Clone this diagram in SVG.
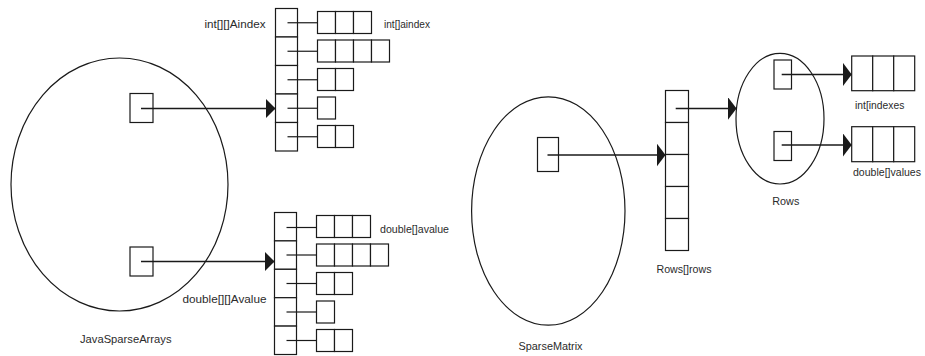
<svg xmlns="http://www.w3.org/2000/svg" width="925" height="356" viewBox="0 0 925 356">
  <style>
    .shape { fill: #ffffff; stroke: #1a1a1a; stroke-width: 1.2; }
    .cell { fill: #ffffff; stroke: #1a1a1a; stroke-width: 1.2; }
    .link { fill: none; stroke: #1a1a1a; stroke-width: 1.2; }
    .ref { fill: none; stroke: #1a1a1a; stroke-width: 1.5; }
    .lbl { font-family: "Liberation Sans", Arial, sans-serif; font-size: 11.5px; fill: #2b2b2b; }
    .lbl-edge { font-size: 11px; }
  </style>
  <defs>
    <marker id="head-s" viewBox="0 0 10 20" refX="10" refY="10" markerWidth="10" markerHeight="20" markerUnits="userSpaceOnUse" orient="auto">
      <path d="M0,0 L10,10 L0,20 z" fill="#1a1a1a"/>
    </marker>
    <marker id="head-l" viewBox="0 0 9 24" refX="9" refY="12" markerWidth="9" markerHeight="24" markerUnits="userSpaceOnUse" orient="auto">
      <path d="M0,0 L9,12 L0,24 z" fill="#1a1a1a"/>
    </marker>
  </defs>

  <!-- JavaSparseArrays object -->
  <g id="java-sparse-arrays">
    <ellipse class="shape" cx="119.5" cy="184.5" rx="108.5" ry="126.5"/>
    <rect class="shape" x="130" y="93.5" width="23" height="29"/>
    <rect class="shape" x="130" y="247" width="23" height="29"/>
    <text class="lbl" x="80" y="343" textLength="91.5" lengthAdjust="spacingAndGlyphs">JavaSparseArrays</text>
  </g>

  <!-- int[][] Aindex: column of row references -->
  <g id="aindex">
    <rect class="shape" x="275.5" y="8.5" width="22" height="28.5"/>
    <rect class="shape" x="275.5" y="37" width="22" height="28.5"/>
    <rect class="shape" x="275.5" y="65.5" width="22" height="28.5"/>
    <rect class="shape" x="275.5" y="94" width="22" height="28.5"/>
    <rect class="shape" x="275.5" y="122.5" width="22" height="28.5"/>
    <text class="lbl" x="204.5" y="28" textLength="61" lengthAdjust="spacingAndGlyphs">int[][]Aindex</text>
  </g>

  <!-- int[] aindex rows -->
  <g id="aindex-rows">
    <g transform="translate(317.5,11.5)">
      <rect class="cell" x="0" y="0" width="18" height="22"/>
      <rect class="cell" x="18" y="0" width="18" height="22"/>
      <rect class="cell" x="36" y="0" width="18" height="22"/>
    </g>
    <g transform="translate(317.5,40)">
      <rect class="cell" x="0" y="0" width="18" height="22"/>
      <rect class="cell" x="18" y="0" width="18" height="22"/>
      <rect class="cell" x="36" y="0" width="18" height="22"/>
      <rect class="cell" x="54" y="0" width="18" height="22"/>
    </g>
    <g transform="translate(317.5,68.5)">
      <rect class="cell" x="0" y="0" width="18" height="22"/>
      <rect class="cell" x="18" y="0" width="18" height="22"/>
    </g>
    <g transform="translate(317.5,97)">
      <rect class="cell" x="0" y="0" width="18" height="22"/>
    </g>
    <g transform="translate(317.5,125.5)">
      <rect class="cell" x="0" y="0" width="18" height="22"/>
      <rect class="cell" x="18" y="0" width="18" height="22"/>
    </g>
    <text class="lbl" x="384" y="28" textLength="46" lengthAdjust="spacingAndGlyphs">int[]aindex</text>
  </g>

  <!-- double[][] Avalue: column of row references -->
  <g id="avalue">
    <rect class="shape" x="274.5" y="212.5" width="22" height="28.4"/>
    <rect class="shape" x="274.5" y="240.9" width="22" height="28.4"/>
    <rect class="shape" x="274.5" y="269.3" width="22" height="28.4"/>
    <rect class="shape" x="274.5" y="297.7" width="22" height="28.4"/>
    <rect class="shape" x="274.5" y="326.1" width="22" height="28.4"/>
    <text class="lbl" x="182.5" y="303" textLength="84" lengthAdjust="spacingAndGlyphs">double[][]Avalue</text>
  </g>

  <!-- double[] avalue rows -->
  <g id="avalue-rows">
    <g transform="translate(316.5,215.5)">
      <rect class="cell" x="0" y="0" width="18" height="22"/>
      <rect class="cell" x="18" y="0" width="18" height="22"/>
      <rect class="cell" x="36" y="0" width="18" height="22"/>
    </g>
    <g transform="translate(316.5,244)">
      <rect class="cell" x="0" y="0" width="18" height="22"/>
      <rect class="cell" x="18" y="0" width="18" height="22"/>
      <rect class="cell" x="36" y="0" width="18" height="22"/>
      <rect class="cell" x="54" y="0" width="18" height="22"/>
    </g>
    <g transform="translate(316.5,272.5)">
      <rect class="cell" x="0" y="0" width="18" height="22"/>
      <rect class="cell" x="18" y="0" width="18" height="22"/>
    </g>
    <g transform="translate(316.5,301)">
      <rect class="cell" x="0" y="0" width="18" height="22"/>
    </g>
    <g transform="translate(316.5,329.5)">
      <rect class="cell" x="0" y="0" width="18" height="22"/>
      <rect class="cell" x="18" y="0" width="18" height="22"/>
    </g>
    <text class="lbl" x="380" y="233" textLength="69" lengthAdjust="spacingAndGlyphs">double[]avalue</text>
  </g>

  <!-- SparseMatrix object -->
  <g id="sparse-matrix">
    <ellipse class="shape" cx="548.3" cy="211" rx="76.7" ry="114.2"/>
    <rect class="shape" x="537.5" y="137.5" width="21" height="34"/>
    <text class="lbl" x="518.5" y="350" textLength="64" lengthAdjust="spacingAndGlyphs">SparseMatrix</text>
  </g>

  <!-- Rows[] rows -->
  <g id="rows-array">
    <rect class="shape" x="665.5" y="90.5" width="23" height="32"/>
    <rect class="shape" x="665.5" y="122.5" width="23" height="32"/>
    <rect class="shape" x="665.5" y="154.5" width="23" height="32"/>
    <rect class="shape" x="665.5" y="186.5" width="23" height="32"/>
    <rect class="shape" x="665.5" y="218.5" width="23" height="32"/>
    <text class="lbl" x="656.5" y="272.5" textLength="55" lengthAdjust="spacingAndGlyphs">Rows[]rows</text>
  </g>

  <!-- Rows object -->
  <g id="rows">
    <ellipse class="shape" cx="780" cy="118.7" rx="44" ry="65.3"/>
    <rect class="shape" x="774" y="60" width="17.5" height="29"/>
    <rect class="shape" x="774" y="131.5" width="17.5" height="29"/>
    <text class="lbl" x="772.3" y="204.5" textLength="27" lengthAdjust="spacingAndGlyphs">Rows</text>
  </g>

  <!-- int[] indexes -->
  <g id="indexes">
    <rect class="cell" x="851.7" y="56" width="21" height="34.7"/>
    <rect class="cell" x="872.7" y="56" width="21" height="34.7"/>
    <rect class="cell" x="893.7" y="56" width="21" height="34.7"/>
    <text class="lbl" x="855" y="109" textLength="49.3" lengthAdjust="spacingAndGlyphs">int[indexes</text>
  </g>

  <!-- double[] values (sits against the right edge) -->
  <g id="values">
    <rect class="cell" x="851.7" y="126.7" width="21" height="35"/>
    <rect class="cell" x="872.7" y="126.7" width="21" height="35"/>
    <rect class="cell" x="893.7" y="126.7" width="21" height="35"/>
    <text class="lbl lbl-edge" x="853" y="176" textLength="68" lengthAdjust="spacingAndGlyphs">double[]values</text>
  </g>

  <!-- references between objects -->
  <g id="connectors">
    <line class="ref" x1="141" y1="108.5" x2="275.5" y2="108.5" marker-end="url(#head-s)"/>
    <line class="ref" x1="141" y1="261.5" x2="274.5" y2="261.5" marker-end="url(#head-s)"/>
    <line class="link" x1="287.5" y1="22.75" x2="317.5" y2="22.75"/>
    <line class="link" x1="287.5" y1="51.25" x2="317.5" y2="51.25"/>
    <line class="link" x1="287.5" y1="79.75" x2="317.5" y2="79.75"/>
    <line class="link" x1="287.5" y1="108.25" x2="317.5" y2="108.25"/>
    <line class="link" x1="287.5" y1="136.75" x2="317.5" y2="136.75"/>
    <line class="link" x1="286.5" y1="227.5" x2="316.5" y2="227.5"/>
    <line class="link" x1="286.5" y1="255" x2="316.5" y2="255"/>
    <line class="link" x1="286.5" y1="283.5" x2="316.5" y2="283.5"/>
    <line class="link" x1="286.5" y1="312" x2="316.5" y2="312"/>
    <line class="link" x1="286.5" y1="340.5" x2="316.5" y2="340.5"/>
    <line class="ref" x1="547.5" y1="155" x2="665.5" y2="155" marker-end="url(#head-l)"/>
    <line class="ref" x1="675.7" y1="108.5" x2="736.5" y2="108.5" marker-end="url(#head-l)"/>
    <line class="ref" x1="781.7" y1="74.5" x2="851.7" y2="74.5" marker-end="url(#head-l)"/>
    <line class="ref" x1="781.7" y1="145" x2="851.7" y2="145" marker-end="url(#head-l)"/>
  </g>
</svg>
